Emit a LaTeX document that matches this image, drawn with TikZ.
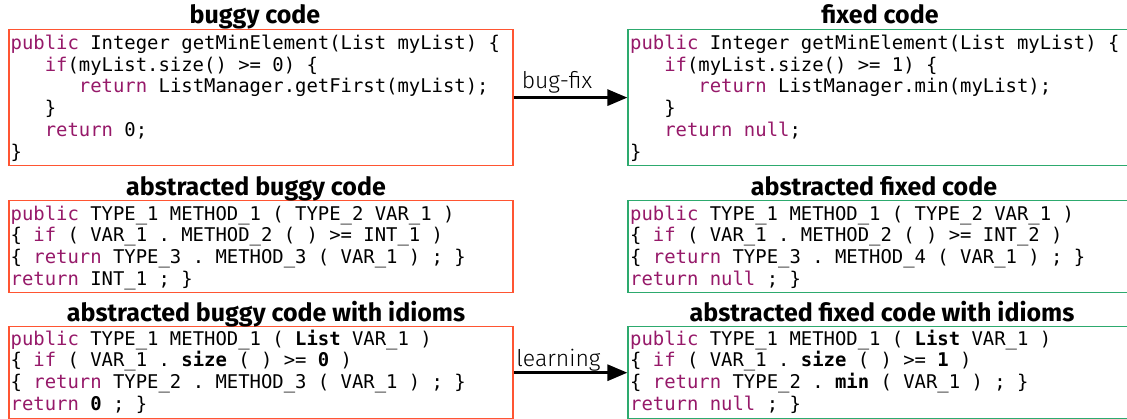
\documentclass[tikz,border=0pt]{standalone}
\usepackage{fontspec}
\setmonofont{DejaVu Sans Mono}
\newfontfamily\titlefont{Fira Sans}
\newfontfamily\lightfont{Fira Sans Light}
\usetikzlibrary{arrows.meta}
\definecolor{kwc}{RGB}{150,25,105}
\definecolor{bugred}{RGB}{255,85,50}
\definecolor{fixgreen}{RGB}{45,170,110}
\newcommand\kw[1]{\textcolor{kwc}{#1}}
\newcommand\ind[1]{\hphantom{#1}}
\newcommand\codefont{\ttfamily\fontsize{18.9}{21.7}\selectfont}
\newcommand\codelines[1]{\parbox[t]{500pt}{\codefont #1}}
\tikzset{
  codebox/.style={draw, line width=1.2pt, minimum width=504pt, inner sep=0pt},
  bugbox/.style={codebox, draw=bugred},
  fixbox/.style={codebox, draw=fixgreen},
  boxtitle/.style={font=\titlefont\bfseries\fontsize{25}{27}\selectfont, anchor=base, inner sep=0pt},
  code/.style={anchor=base west, inner sep=0pt},
  lbl/.style={font=\lightfont\fontsize{23}{25}\selectfont, anchor=base, inner sep=0pt},
  flow/.style={line width=3pt, -{Triangle[length=20pt,width=16pt]}}
}
\begin{document}
\begin{tikzpicture}[x=1pt,y=-1pt]
\useasboundingbox (0,0) rectangle (1127,418);
\clip (0,0) rectangle (1127,418);
% boxes
\node[bugbox, minimum height=136.2pt] (bug) at (261,97.6) {};
\node[fixbox, minimum height=136.2pt] (fix) at (880,97.6) {};
\node[bugbox, minimum height=92pt] (abug) at (261,246.7) {};
\node[fixbox, minimum height=92pt] (afix) at (880,246.7) {};
\node[bugbox, minimum height=92pt] (ibug) at (261,372.7) {};
\node[fixbox, minimum height=92pt] (ifix) at (880,372.7) {};
% titles
\node[boxtitle] (tbug) at (255,23) {buggy code};
\node[boxtitle] (tfix) at (880,23) {fixed code};
\node[boxtitle] (tabug) at (256,195) {abstracted buggy code};
\node[boxtitle] (tafix) at (874,195) {abstracted fixed code};
\node[boxtitle] (tibug) at (266,321) {abstracted buggy code with idioms};
\node[boxtitle] (tifix) at (882,321) {abstracted fixed code with idioms};
% code
\node[code] (cbug) at (10.5,49.5) {\codelines{%
\kw{public} Integer getMinElement(List myList) \{\\
\ind{xxx}\kw{if}(myList.size() >= 0) \{\\
\ind{xxxxxx}\kw{return} ListManager.getFirst(myList);\\
\ind{xxx}\}\\
\ind{xxx}\kw{return} 0;\\
\}}};
\node[code] (cfix) at (630,49.5) {\codelines{%
\kw{public} Integer getMinElement(List myList) \{\\
\ind{xxx}\kw{if}(myList.size() >= 1) \{\\
\ind{xxxxxx}\kw{return} ListManager.min(myList);\\
\ind{xxx}\}\\
\ind{xxx}\kw{return} \kw{null};\\
\}}};
\node[code] (cabug) at (10.5,220) {\codelines{%
\kw{public} TYPE\_1 METHOD\_1 ( TYPE\_2 VAR\_1 )\\
\{ \kw{if} ( VAR\_1 . METHOD\_2 ( ) >= INT\_1 )\\
\{ \kw{return} TYPE\_3 . METHOD\_3 ( VAR\_1 ) ; \}\\
\kw{return} INT\_1 ; \}}};
\node[code] (cafix) at (630,220) {\codelines{%
\kw{public} TYPE\_1 METHOD\_1 ( TYPE\_2 VAR\_1 )\\
\{ \kw{if} ( VAR\_1 . METHOD\_2 ( ) >= INT\_2 )\\
\{ \kw{return} TYPE\_3 . METHOD\_4 ( VAR\_1 ) ; \}\\
\kw{return} \kw{null} ; \}}};
\node[code] (cibug) at (10.5,345) {\codelines{%
\kw{public} TYPE\_1 METHOD\_1 ( \textbf{List} VAR\_1 )\\
\{ \kw{if} ( VAR\_1 . \textbf{size} ( ) >= \textbf{0} )\\
\{ \kw{return} TYPE\_2 . METHOD\_3 ( VAR\_1 ) ; \}\\
\kw{return} \textbf{0} ; \}}};
\node[code] (cifix) at (630,345) {\codelines{%
\kw{public} TYPE\_1 METHOD\_1 ( \textbf{List} VAR\_1 )\\
\{ \kw{if} ( VAR\_1 . \textbf{size} ( ) >= \textbf{1} )\\
\{ \kw{return} TYPE\_2 . \textbf{min} ( VAR\_1 ) ; \}\\
\kw{return} \kw{null} ; \}}};
% arrows
\draw[flow] (bug.east) -- (fix.west);
\draw[flow] (ibug.east) -- (ifix.west);
\node[lbl] (lfix) at (557,88) {bug-fix};
\node[lbl] (llearn) at (558.5,366) {learning};
\end{tikzpicture}
\end{document}
